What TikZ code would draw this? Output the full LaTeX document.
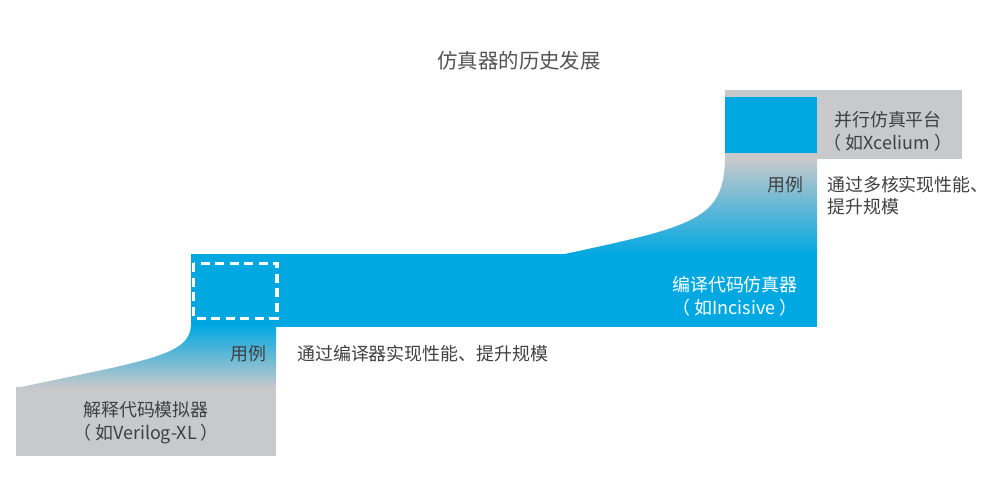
\documentclass[tikz,border=0pt]{standalone}
\usepackage{fontspec}
\setmainfont{Noto Sans CJK SC}
\usetikzlibrary{positioning}
\definecolor{simblue}{HTML}{00A8E1}
\definecolor{simgray}{HTML}{C8C9CB}
\definecolor{txtgray}{HTML}{404040}

\begin{document}
\begin{tikzpicture}[x=1bp, y=-1bp,
  lbl/.style={font=\fontsize{18}{23}\selectfont, text=txtgray, inner sep=0pt, align=center},
  wlbl/.style={lbl, text=white}]
  \useasboundingbox (0,0) rectangle (994,481);

  % Stufe 1: interpretiert
  \fill[simgray] (16,387) rectangle (276,456);
  \shade[top color=simblue, middle color=simblue!55!simgray, bottom color=simgray]
    (16,388) .. controls (150,360) and (190,355) .. (191,325) -- (276,325) -- (276,388) -- cycle;

  % Stufe 2: kompiliert
  \shade[top color=simgray, middle color=simgray!45!simblue, bottom color=simblue]
    (560,255) .. controls (695,226) and (724,220) .. (725,158) -- (817,158) -- (817,255) -- cycle;
  \fill[simblue] (191,254) rectangle (817,327);
  \draw[white, line width=3.5bp, dash pattern=on 9bp off 5.5bp] (193.5,263.5) rectangle (277,318.5);

  % Stufe 3: parallel
  \fill[simgray] (725,90) rectangle (962,159);
  \fill[simblue] (725,97) rectangle (817,153);

  % Texte
  \node[lbl, font=\fontsize{20.5}{23}\selectfont, text=txtgray!90] (title) at (519,61) {仿真器的历史发展};
  \node[lbl] (interp) at (146,423) {解释代码模拟器\\（ 如Verilog-XL ）};
  \node[lbl] (use1) at (248,354) {用例};
  \node[lbl, anchor=west] (note1) at (297,354) {通过编译器实现性能、提升规模};
  \node[wlbl] (compiled) at (735,296) {编译代码仿真器\\（ 如Incisive ）};
  \node[lbl] (parallel) at (888,131) {并行仿真平台\\（ 如Xcelium ）};
  \node[lbl] (use2) at (785,185) {用例};
  \node[lbl, align=left, anchor=north west, font=\fontsize{18}{22}\selectfont] (note2) at (827,176) {通过多核实现性能、\\提升规模};
\end{tikzpicture}
\end{document}
